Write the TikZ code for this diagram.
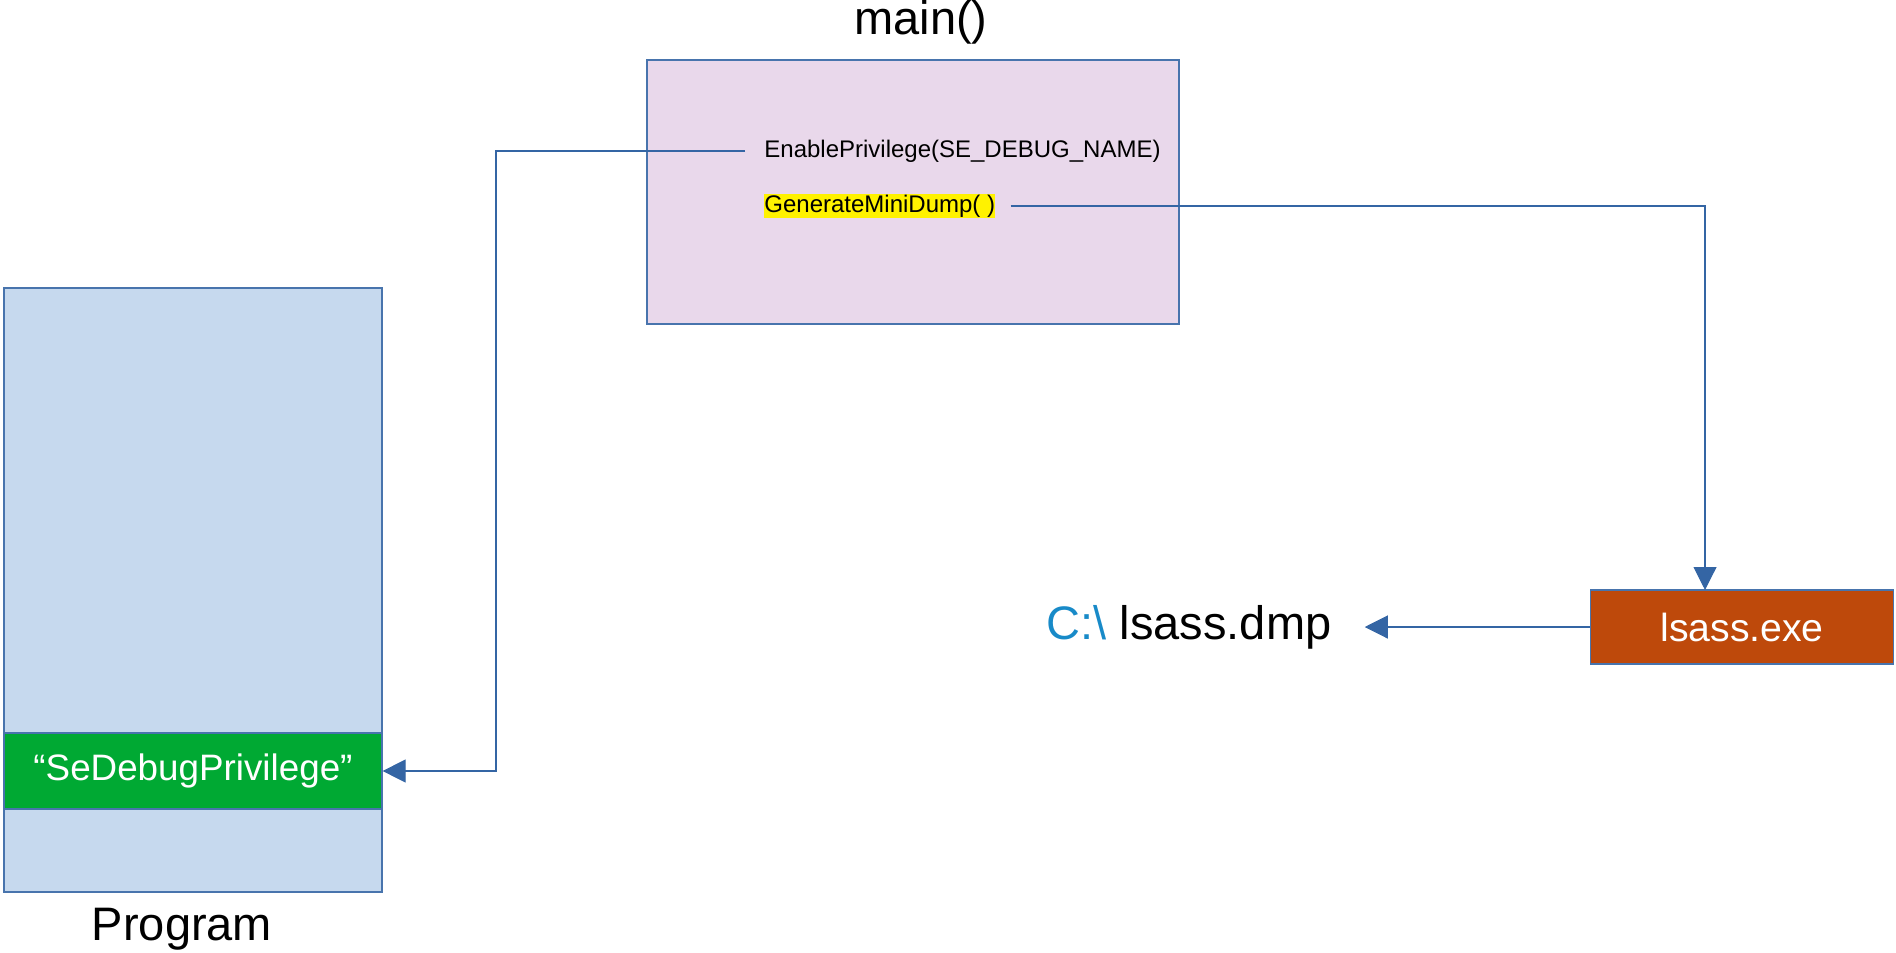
\documentclass[tikz,border=0pt]{standalone}
\usepackage{fontspec}
\setmainfont{Liberation Sans}
\usepackage{xcolor}
\definecolor{Col1}{RGB}{52,101,164}
\definecolor{Col2}{RGB}{233,216,235}
\definecolor{Col3}{RGB}{198,217,238}
\definecolor{Col4}{RGB}{0,169,51}
\definecolor{Col5}{RGB}{190,73,11}
\definecolor{Col6}{RGB}{24,138,200}
\usetikzlibrary{arrows.meta}
\newcommand{\FontL}{\fontsize{23.5}{28}\selectfont}
\newcommand{\FontM}{\fontsize{18.4}{22}\selectfont}
\newcommand{\FontN}{\fontsize{19.6}{23}\selectfont}
\newcommand{\FontS}{\fontsize{12}{14}\selectfont}
\tikzstyle{Box}=[draw=Col1!90,line width=.6pt,inner sep=0pt]
\tikzstyle{Edge}=[draw=Col1,line width=.55pt]
\tikzstyle{Tip}=[-{Triangle[length=11.5pt,width=11.5pt]}]
\tikzstyle{NodeST}=[inner sep=0pt,font=\FontS]

\begin{document}
\begin{tikzpicture}[x=.5pt,y=-.5pt]
    \useasboundingbox (0,0) rectangle (1896,953);
    % the program and its privilege string
    \node[Box,fill=Col3,minimum width=189pt,minimum height=302pt](prog)
        at(193,590){};
    \node[Box,fill=Col4,minimum width=189pt,minimum height=38pt,
        text=white,font=\FontM](sedebug)at(193,771){“SeDebugPrivilege”};
    \node[font=\FontL](progname)at(182,929){Program};
    % main()
    \node[Box,fill=Col2,minimum width=266pt,minimum height=132pt](main)
        at(913,192){};
    \node[font=\FontL](mainname)at(921,22){main()};
    \node[NodeST,anchor=west](enable)at(764,151)
        {EnablePrivilege(SE\_DEBUG\_NAME)};
    \node[NodeST,anchor=west,fill=yellow,minimum height=12pt](dump)
        at(764,206){GenerateMiniDump( )};
    % lsass
    \node[Box,fill=Col5,minimum width=151.5pt,minimum height=37pt,
        text=white,font=\FontN](lsass)at(1742,627){lsass.exe};
    \node[inner sep=0pt,font=\FontL](dmp)at(1189,627)
        {\textcolor{Col6}{C:\textbackslash} lsass.dmp};
    \coordinate(k1)at(496,151);
    \coordinate(k2)at(1705,590);
    \draw[Edge,Tip,shorten <=9.5pt](enable.west)--(k1)|-(sedebug.east);
    \draw[Edge,Tip,shorten <=7.5pt](dump.east)-|(k2);
    \draw[Edge,Tip,shorten >=16.5pt](lsass.west)--(dmp.east);
\end{tikzpicture}
\end{document}
